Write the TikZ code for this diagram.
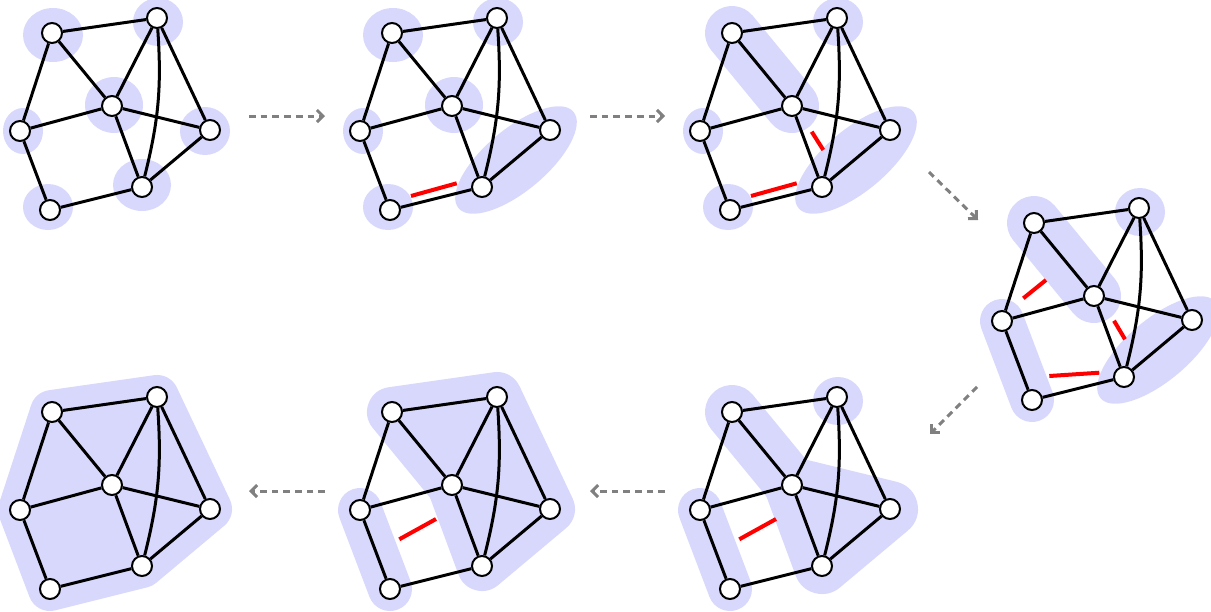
\documentclass[tikz,border=0pt]{standalone}
\usetikzlibrary{arrows.meta}
\definecolor{blobc}{RGB}{216,216,252}
\definecolor{arrc}{RGB}{128,128,128}
\tikzset{
  vtx/.style={circle,draw=black,fill=white,line width=2pt,minimum size=20pt,inner sep=0pt},
  edge/.style={line width=3pt},
  cutmark/.style={red,line width=4pt},
  blob/.style={fill=blobc,draw=none},
  band/.style={draw=blobc,fill=blobc,line cap=round,line join=round},
  flow/.style={arrc,line width=3pt,dash pattern=on 6.7pt off 5pt,-{Straight Barb[length=6pt,width=12pt]}}
}
\newcommand\setverts{%
  \coordinate (cA) at (52,33); \coordinate (cB) at (157,18); \coordinate (cC) at (112,106);
  \coordinate (cD) at (20,131); \coordinate (cE) at (210,130); \coordinate (cF) at (142,187);
  \coordinate (cG) at (50,210);}
\newcommand\blobA{\fill[blob] (53,35) ellipse [x radius=30, y radius=27];}
\newcommand\blobB{\fill[blob] (158,22) ellipse [x radius=25, y radius=24];}
\newcommand\blobC{\fill[blob] (114,105) ellipse [x radius=29, y radius=28];}
\newcommand\blobD{\fill[blob] (23,131) ellipse [x radius=20, y radius=23];}
\newcommand\blobE{\fill[blob] (205,131) ellipse [x radius=25, y radius=24];}
\newcommand\blobF{\fill[blob] (142,185) ellipse [x radius=29, y radius=26];}
\newcommand\blobG{\fill[blob] (48,207) ellipse [x radius=25, y radius=23];}
\newcommand\blobFE{\fill[blob,shift={(176,160)},rotate=40] (0,0) ellipse [x radius=75, y radius=31];}
\newcommand\blobAC{\draw[band,line width=54pt] (cA) -- (cC);}
\newcommand\blobDG{\draw[band,line width=44pt] (cD) -- (cG);}
\newcommand\graphnodes[1]{%
  \node[vtx] (#1A) at (cA) {};
  \node[vtx] (#1B) at (cB) {};
  \node[vtx] (#1C) at (cC) {};
  \node[vtx] (#1D) at (cD) {};
  \node[vtx] (#1E) at (cE) {};
  \node[vtx] (#1F) at (cF) {};
  \node[vtx] (#1G) at (cG) {};
  \draw[edge] (#1A) -- (#1B) (#1A) -- (#1C) (#1A) -- (#1D) (#1B) -- (#1C)
    (#1B) -- (#1E) (#1C) -- (#1D) (#1C) -- (#1E) (#1C) -- (#1F)
    (#1E) -- (#1F) (#1D) -- (#1G) (#1G) -- (#1F);
  \draw[edge] (#1B) to[bend left=9] (#1F);}
\begin{document}
\begin{tikzpicture}[x=1pt,y=-1pt]
\useasboundingbox (0,0) rectangle (1211,611);
% panel 1
\begin{scope}
  \setverts
  \blobA \blobB \blobC \blobD \blobE \blobF \blobG
  \graphnodes{a}
\end{scope}
% panel 2
\begin{scope}[shift={(340,0)}]
  \setverts
  \blobA \blobB \blobC \blobD \blobG \blobFE
  \graphnodes{b}
  \coordinate (b1s) at (71,196); \coordinate (b1e) at (116.7,183.3);
  \draw[cutmark] (b1s) -- (b1e);
\end{scope}
% panel 3
\begin{scope}[shift={(680,0)}]
  \setverts
  \blobB \blobD \blobG \blobFE \blobAC
  \graphnodes{c}
  \coordinate (c1s) at (71,196); \coordinate (c1e) at (116.7,183.3);
  \coordinate (c2s) at (131.7,131.7); \coordinate (c2e) at (143.3,150);
  \draw[cutmark] (c1s) -- (c1e) (c2s) -- (c2e);
\end{scope}
% panel 4
\begin{scope}[shift={(982,190)}]
  \setverts
  \blobB \blobFE \blobAC \blobDG
  \graphnodes{d}
  \coordinate (d1s) at (41.3,108.3); \coordinate (d1e) at (64,90);
  \coordinate (d2s) at (132,130.7); \coordinate (d2e) at (143,149.3);
  \coordinate (d3s) at (67.3,186); \coordinate (d3e) at (117.3,182.7);
  \draw[cutmark] (d1s) -- (d1e) (d2s) -- (d2e) (d3s) -- (d3e);
\end{scope}
% panel 5
\begin{scope}[shift={(680,379)}]
  \setverts
  \blobB \blobDG \blobAC
  \filldraw[band,line width=56pt] (cC) -- (cE) -- (cF) -- cycle;
  \graphnodes{e}
  \coordinate (e1s) at (59.3,160.3); \coordinate (e1e) at (96,140);
  \draw[cutmark] (e1s) -- (e1e);
\end{scope}
% panel 6
\begin{scope}[shift={(340,379)}]
  \setverts
  \blobDG
  \filldraw[band,line width=50pt] (cA) -- (cB) -- (cE) -- (cF) -- (cC) -- cycle;
  \graphnodes{f}
  \coordinate (f1s) at (59.3,160.3); \coordinate (f1e) at (96,140);
  \draw[cutmark] (f1s) -- (f1e);
\end{scope}
% panel 7
\begin{scope}[shift={(0,379)}]
  \setverts
  \filldraw[band,line width=44pt] (cA) -- (cB) -- (cE) -- (cF) -- (cG) -- (cD) -- cycle;
  \graphnodes{g}
\end{scope}
% arrows
\coordinate (r1s) at (249,116); \coordinate (r1e) at (325,116);
\coordinate (r2s) at (590,116); \coordinate (r2e) at (665,116);
\coordinate (r3s) at (929,172); \coordinate (r3e) at (978,220);
\coordinate (r4s) at (977,387); \coordinate (r4e) at (930,434);
\coordinate (r5s) at (665,491); \coordinate (r5e) at (590,491);
\coordinate (r6s) at (325,491); \coordinate (r6e) at (249,491);
\draw[flow] (r1s) -- (r1e);
\draw[flow] (r2s) -- (r2e);
\draw[flow] (r3s) -- (r3e);
\draw[flow] (r4s) -- (r4e);
\draw[flow] (r5s) -- (r5e);
\draw[flow] (r6s) -- (r6e);
\end{tikzpicture}
\end{document}
